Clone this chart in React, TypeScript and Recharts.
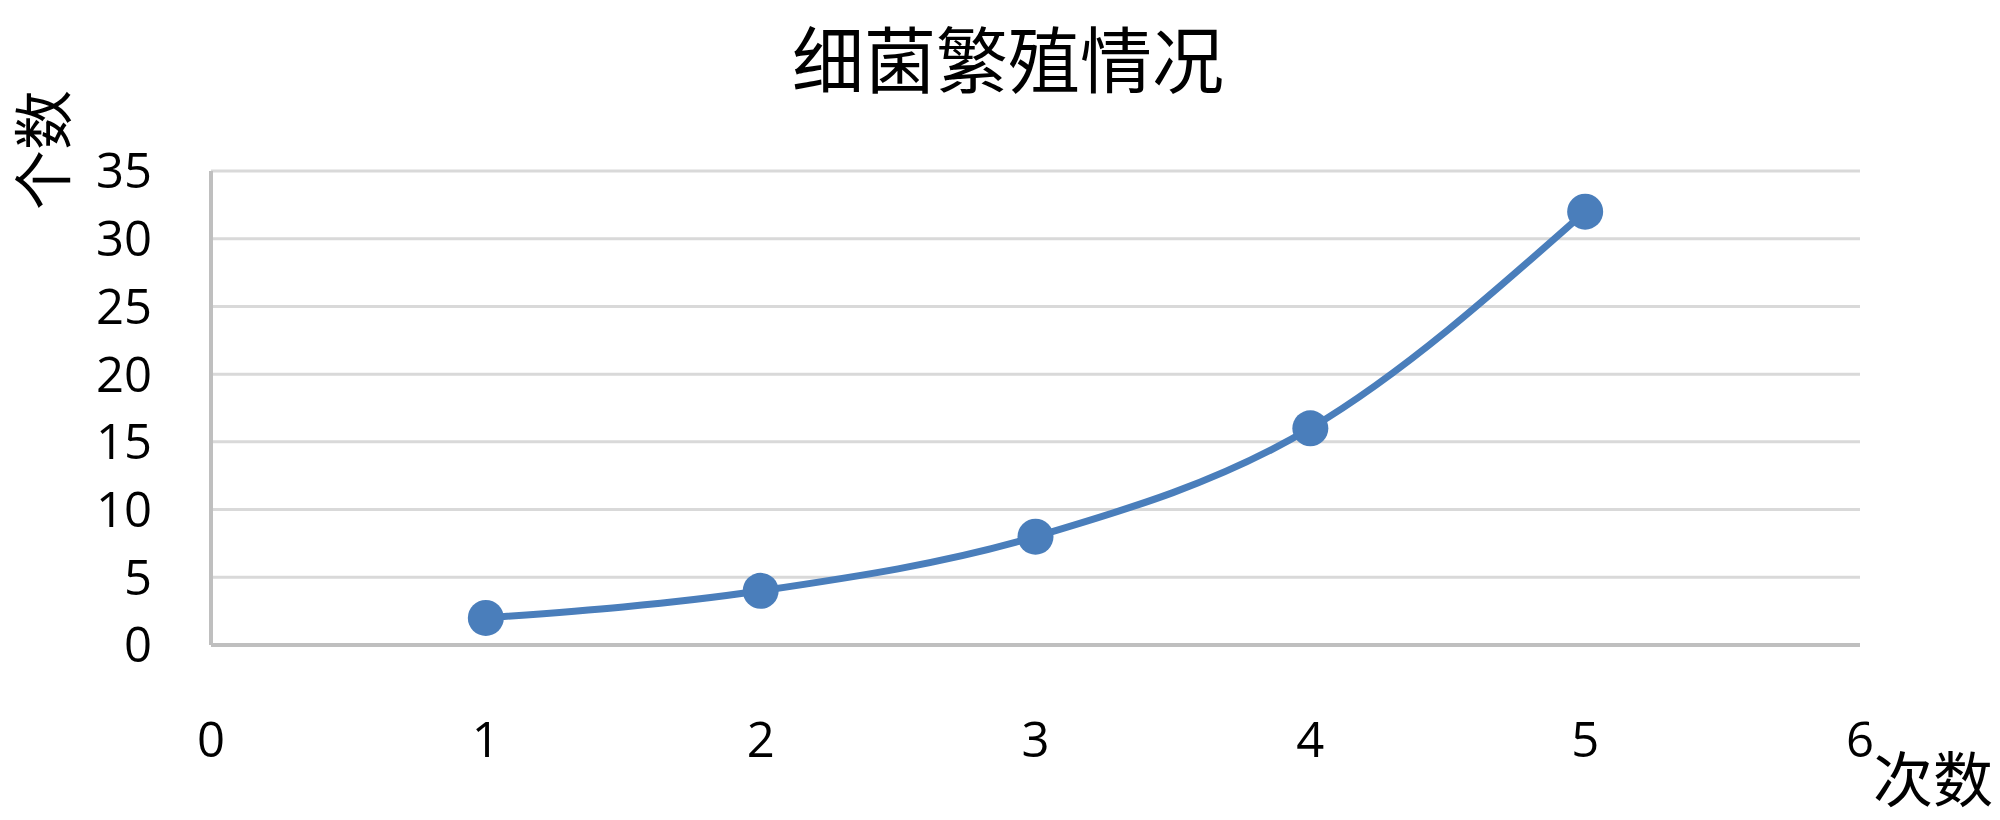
import React from "react";
import { LineChart, Line, XAxis, YAxis, CartesianGrid } from "recharts";

// 繁殖次数 and 细菌个数
const times = [1, 2, 3, 4, 5];
const counts = [2, 4, 8, 16, 32];
const xTicks = [0, 1, 2, 3, 4, 5, 6];
const yTicks = [0, 5, 10, 15, 20, 25, 30, 35];

const data = times.map((t, i) => ({ t, n: counts[i] }));

const LINE = "#4a7ebb";
const NUM_FONT = "'Open Sans', 'Liberation Sans', sans-serif";
const CJK_FONT = "'Noto Sans CJK SC', sans-serif";

export default function App() {
  return (
    <div style={{ position: "absolute", left: 0, top: 0, width: 2000, height: 820, background: "#fff" }}>
      <LineChart
        width={2000}
        height={820}
        data={data}
        margin={{ top: 171, right: 140, bottom: 0, left: 151 }}
      >
        <CartesianGrid vertical={false} stroke="#d9d9d9" strokeWidth={3} />
        <XAxis
          dataKey="t"
          type="number"
          domain={[0, 6]}
          ticks={xTicks}
          interval={0}
          height={175}
          axisLine={{ stroke: "#bfbfbf", strokeWidth: 4 }}
          tickLine={false}
          tickSize={0}
          tickMargin={77}
          tick={{ fill: "#000", fontSize: 49, fontFamily: NUM_FONT }}
        />
        <YAxis
          type="number"
          domain={[0, 35]}
          ticks={yTicks}
          interval={0}
          width={60}
          axisLine={{ stroke: "#bfbfbf", strokeWidth: 4 }}
          tickLine={false}
          tickSize={0}
          tickMargin={59}
          tick={{ fill: "#000", fontSize: 49, fontFamily: NUM_FONT }}
        />
        <Line
          dataKey="n"
          type="monotone"
          stroke={LINE}
          strokeWidth={7}
          dot={{ r: 18, fill: LINE, stroke: LINE, strokeWidth: 0 }}
          activeDot={false}
          isAnimationActive={false}
        />
      </LineChart>
      <div
        style={{
          position: "absolute",
          left: 0,
          width: 2016,
          top: 10,
          textAlign: "center",
          fontFamily: CJK_FONT,
          fontSize: 72,
          lineHeight: "92px",
          color: "#000",
        }}
      >
        细菌繁殖情况
      </div>
      <div
        style={{
          position: "absolute",
          left: 40,
          top: 150,
          transform: "translate(-50%, -50%) rotate(-90deg)",
          fontFamily: CJK_FONT,
          fontSize: 60,
          lineHeight: "60px",
          whiteSpace: "nowrap",
          color: "#000",
        }}
      >
        个数
      </div>
      <div
        style={{
          position: "absolute",
          left: 1933,
          top: 776,
          transform: "translate(-50%, -50%)",
          fontFamily: CJK_FONT,
          fontSize: 60,
          lineHeight: "60px",
          whiteSpace: "nowrap",
          color: "#000",
        }}
      >
        次数
      </div>
    </div>
  );
}
